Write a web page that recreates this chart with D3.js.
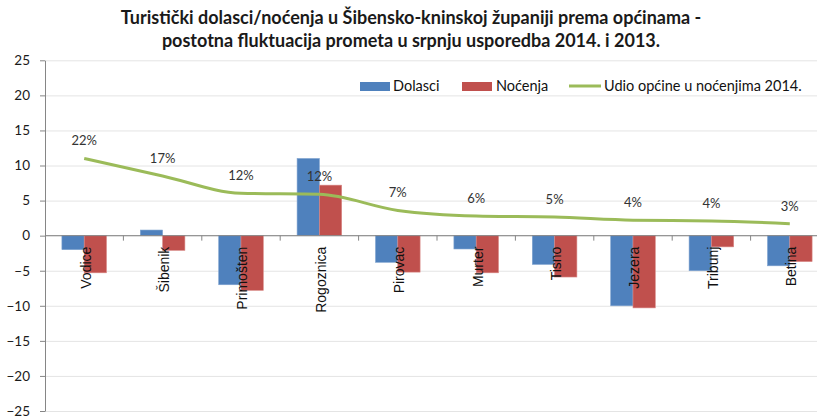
<!DOCTYPE html>
<html>
<head>
<meta charset="utf-8">
<script src="https://cdn.jsdelivr.net/npm/d3@7"></script>
<style>
  body { margin: 0; background: #fff; }
  svg { display: block; }
  text { font-family: Lato, "Open Sans", sans-serif; }
</style>
</head>
<body>
<div id="chart"></div>
<script>
var categories = ["Vodice", "Šibenik", "Primošten", "Rogoznica", "Pirovac", "Murter", "Tisno", "Jezera", "Tribunj", "Betina"];
var dolasci = [-2.0, 0.8, -7.0, 11.0, -3.8, -1.9, -4.1, -10.0, -5.0, -4.3];
var nocenja = [-5.3, -2.1, -7.8, 7.2, -5.2, -5.3, -5.9, -10.3, -1.6, -3.7];
var udio = [22.0, 17.0, 12.1, 11.8, 7.2, 5.6, 5.3, 4.4, 4.2, 3.4];
var yTicks = [-25, -20, -15, -10, -5, 0, 5, 10, 15, 20, 25];
var seriesNames = ["Dolasci", "Noćenja", "Udio općine u noćenjima 2014."];

var width = 817, height = 419;
var plotLeft = 45, plotRight = 829, plotTop = 60.3, plotBottom = 411;

var colors = ["#4F81BD", "#C0504D", "#9BBB59"];

var svg = d3.select("#chart").append("svg")
    .attr("width", width)
    .attr("height", height);

// title
var title = svg.append("text")
    .attr("x", 411)
    .attr("text-anchor", "middle")
    .style("font-weight", "bold")
    .style("font-size", "18px")
    .style("fill", "#1a1a1a");
title.append("tspan").attr("x", 411).attr("y", 24)
    .text("Turistički dolasci/noćenja u Šibensko-kninskoj županiji prema općinama -");
title.append("tspan").attr("x", 411).attr("y", 47)
    .text("postotna fluktuacija prometa u srpnju usporedba 2014. i 2013.");

var x = d3.scaleBand()
    .domain(categories)
    .range([plotLeft, plotRight]);

var y = d3.scaleLinear()
    .domain([-25, 25])
    .range([plotBottom, plotTop]);

// line uses a hidden secondary scale (percent)
var y2 = d3.scaleLinear()
    .domain([-50, 50])
    .range([plotBottom, plotTop]);

// gridlines
svg.append("g")
    .attr("class", "grid")
    .attr("transform", "translate(" + plotLeft + ",0)")
    .call(d3.axisLeft(y).tickValues(yTicks).tickSize(-(plotRight - plotLeft)).tickFormat(""))
    .call(function(g) { g.select(".domain").remove(); })
    .selectAll("line")
    .style("stroke", "#e4e4e4");

// y axis
var yAxis = svg.append("g")
    .attr("transform", "translate(" + plotLeft + ",0)")
    .call(d3.axisLeft(y).tickValues(yTicks).tickSize(5).tickPadding(10).tickSizeOuter(0));
yAxis.select(".domain").style("stroke", "#868686");
yAxis.selectAll(".tick line").style("stroke", "#868686");
yAxis.selectAll("text")
    .style("font-family", "Lato, sans-serif")
    .style("font-size", "13.5px")
    .style("fill", "#1a1a1a");

// bars
var inner = x.bandwidth() / 1.758;
var barW = inner / 2;

[dolasci, nocenja].forEach(function(vals, s) {
    svg.selectAll(".bar" + s)
        .data(vals)
        .enter().append("rect")
        .attr("class", "bar" + s)
        .attr("x", function(d, i) { return x(categories[i]) + x.bandwidth() / 2 - inner / 2 + s * barW; })
        .attr("y", function(d) { return y(Math.max(0, d)); })
        .attr("width", barW)
        .attr("height", function(d) { return Math.abs(y(d) - y(0)); })
        .style("fill", colors[s])
        .style("stroke", s == 0 ? "#7ea2cf" : "#d98a88")
        .style("stroke-width", 0.6);
});

// zero axis with category ticks
var xAxis = svg.append("g")
    .attr("transform", "translate(0," + y(0) + ")");
xAxis.append("line")
    .attr("x1", plotLeft).attr("x2", plotRight)
    .style("stroke", "#868686");
xAxis.selectAll(".ctick")
    .data(categories.slice(1))
    .enter().append("line")
    .attr("x1", function(d) { return x(d); })
    .attr("x2", function(d) { return x(d); })
    .attr("y1", 0).attr("y2", 5)
    .style("stroke", "#868686");

xAxis.selectAll(".clabel")
    .data(categories)
    .enter().append("text")
    .attr("transform", function(d) { return "translate(" + (x(d) + x.bandwidth() / 2) + ",11) rotate(-90)"; })
    .attr("dy", "0.45em")
    .attr("text-anchor", "end")
    .style("font-family", "'Liberation Sans', Arial, sans-serif")
    .style("font-size", "14px")
    .style("fill", "#111")
    .text(function(d) { return d; });

// share line
var line = d3.line()
    .x(function(d, i) { return x(categories[i]) + x.bandwidth() / 2; })
    .y(function(d) { return y2(d); })
    .curve(d3.curveMonotoneX);

svg.append("path")
    .datum(udio)
    .attr("d", line)
    .style("fill", "none")
    .style("stroke", colors[2])
    .style("stroke-width", 3);

svg.selectAll(".plabel")
    .data(udio)
    .enter().append("text")
    .attr("class", "plabel")
    .attr("x", function(d, i) { return x(categories[i]) + x.bandwidth() / 2; })
    .attr("y", function(d) { return y2(d) - 13; })
    .attr("text-anchor", "middle")
    .style("font-size", "13px")
    .style("fill", "#333")
    .text(function(d) { return Math.round(d) + "%"; });

// legend
var legend = svg.append("g").attr("class", "legend");
var legX = [360, 462, 569];
var legTextX = [393, 496, 604];

[0, 1].forEach(function(s) {
    legend.append("rect")
        .attr("x", legX[s]).attr("y", 82)
        .attr("width", 30).attr("height", 9)
        .style("fill", colors[s]);
});
legend.append("line")
    .attr("x1", legX[2]).attr("x2", legX[2] + 32)
    .attr("y1", 86).attr("y2", 86)
    .style("stroke", colors[2])
    .style("stroke-width", 3);

legend.selectAll(".ltext")
    .data(seriesNames)
    .enter().append("text")
    .attr("x", function(d, i) { return legTextX[i]; })
    .attr("y", 91)
    .style("font-size", "14.5px")
    .style("fill", "#111")
    .text(function(d) { return d; });
</script>
</body>
</html>
